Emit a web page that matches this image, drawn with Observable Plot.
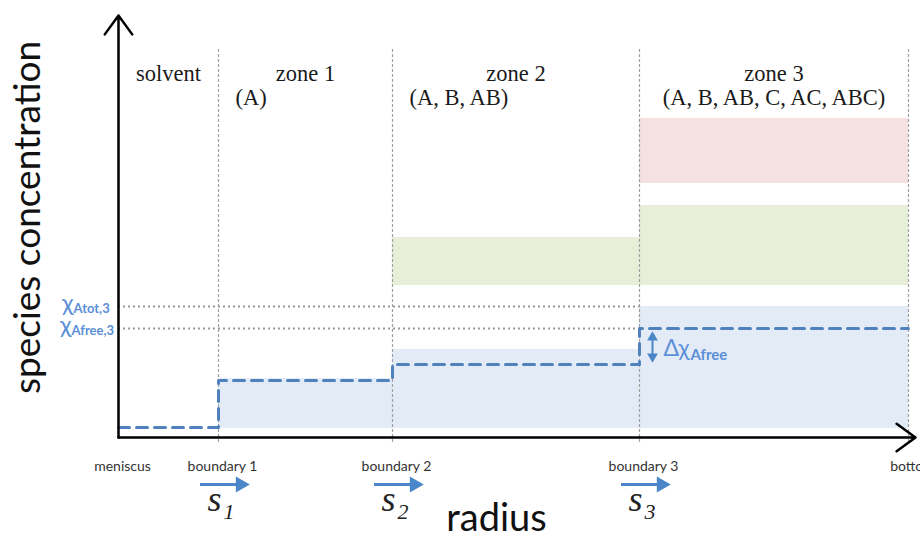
<!DOCTYPE html>
<html><head><meta charset="utf-8">
<script src="https://cdn.jsdelivr.net/npm/d3@7"></script>
<script src="https://cdn.jsdelivr.net/npm/@observablehq/plot@0.6"></script>
<style>body{margin:0;background:#fff}</style>
</head><body><div id="chart"></div>
<script>
// ---- data (radius in arbitrary units, concentration in arbitrary units) ----
const zoneNames = ["solvent", "zone 1", "zone 2", "zone 3"];
const zoneSpecies = ["", "(A)", "(A, B, AB)", "(A, B, AB, C, AC, ABC)"];
const boundaryLabels = ["meniscus", "boundary 1", "boundary 2", "boundary 3", "bottom"];
const boundaryRadius = [0, 1.00, 2.74, 5.21, 7.90];
const bandBase = 0.09;
const totalA = [null, 0.59, 0.88, 1.31];          // top of blue (A) band per zone
const freeA = [0.10, 0.57, 0.73, 1.09];            // dashed free A per zone
const bandB = [null, null, [1.52, 2.00], [1.52, 2.32]];
const bandC = [null, null, null, [2.54, 3.19]];
const sedCoefs = ["1", "2", "3"];

const rMax = 7.97, cMax = 4.22;
const blue = "#4f81bd", labelBlue = "#5b8fd6", arrowBlue = "#4a86c8";

const aRows = zoneNames.map((z, i) => ({x1: boundaryRadius[i], x2: boundaryRadius[i + 1], y1: bandBase, y2: totalA[i]})).filter(d => d.y2 != null);
const bRows = zoneNames.map((z, i) => bandB[i] && ({x1: boundaryRadius[i], x2: boundaryRadius[i + 1], y1: bandB[i][0], y2: bandB[i][1]})).filter(Boolean);
const cRows = zoneNames.map((z, i) => bandC[i] && ({x1: boundaryRadius[i], x2: boundaryRadius[i + 1], y1: bandC[i][0], y2: bandC[i][1]})).filter(Boolean);
const stepPts = freeA.map((v, i) => ({x: boundaryRadius[i], y: v})).concat([{x: boundaryRadius[4], y: freeA[3]}]);
const zoneRows = zoneNames.map((z, i) => ({name: z, species: zoneSpecies[i], mid: (boundaryRadius[i] + boundaryRadius[i + 1]) / 2, start: boundaryRadius[i]}));
const bRows2 = boundaryLabels.map((b, i) => ({label: b, r: boundaryRadius[i]}));
const sRows = sedCoefs.map((s, i) => ({sub: s, r: boundaryRadius[i + 1]}));
const b3 = boundaryRadius[3];

const serif = "Liberation Serif, Times New Roman, serif";
const sans = "Lato, Open Sans, sans-serif";

const chart = Plot.plot({
  width: 920, height: 540,
  marginLeft: 118, marginRight: 5, marginTop: 15, marginBottom: 103,
  x: {domain: [0, rMax], axis: null},
  y: {domain: [0, cMax], axis: null},
  style: {background: "#fff", overflow: "visible"},
  marks: [
    Plot.rect(aRows, {x1: "x1", x2: "x2", y1: "y1", y2: "y2", fill: "#e3ebf7"}),
    Plot.rect(bRows, {x1: "x1", x2: "x2", y1: "y1", y2: "y2", fill: "#e8efd9"}),
    Plot.rect(cRows, {x1: "x1", x2: "x2", y1: "y1", y2: "y2", fill: "#f6e1e1"}),
    // vertical boundary dotted lines
    Plot.ruleX(boundaryRadius.slice(1), {y1: -0.05, y2: 3.90, stroke: "#a0a0a0", strokeWidth: 1.2, strokeDasharray: "3,2"}),
    // horizontal dotted reference lines
    Plot.ruleY([totalA[3], freeA[3]], {x1: 0, x2: b3, stroke: "#999", strokeWidth: 2, strokeDasharray: "2,3"}),
    // dashed free-A step line
    Plot.line(stepPts, {x: "x", y: "y", curve: "step-after", stroke: blue, strokeWidth: 3, strokeDasharray: "11,7"}),
    // axes
    Plot.arrow([0], {x1: 0, y1: 0, x2: 0, y2: cMax, stroke: "#000", strokeWidth: 2.5, headAngle: 72, headLength: 14}),
    Plot.arrow([0], {x1: 0, y1: 0, x2: rMax, y2: 0, stroke: "#000", strokeWidth: 2.5, headAngle: 72, headLength: 14}),
    // delta chi double arrow
    Plot.ruleX([b3 + 0.13], {y1: freeA[2] + 0.07, y2: freeA[3] - 0.08, stroke: arrowBlue, strokeWidth: 2}),
    Plot.dot([freeA[3] - 0.09], {x: b3 + 0.13, y: d => d, symbol: "triangle", r: 4, fill: arrowBlue, rotate: 0}),
    Plot.dot([freeA[2] + 0.08], {x: b3 + 0.13, y: d => d, symbol: "triangle", r: 4, fill: arrowBlue, rotate: 180}),
    Plot.text(["Δχ"], {x: b3 + 0.24, y: 0.82, text: d => d, textAnchor: "start", lineAnchor: "bottom", fontSize: 23, fill: labelBlue, fontFamily: sans}),
    Plot.text(["Afree"], {x: b3 + 0.51, y: 0.78, text: d => d, textAnchor: "start", lineAnchor: "bottom", fontSize: 15, fontWeight: "bold", fill: labelBlue, fontFamily: sans}),
    // chi labels on y axis
    Plot.text(["χ"], {x: -0.45, y: totalA[3] - 0.04, text: d => d, textAnchor: "end", lineAnchor: "bottom", fontSize: 24, fill: labelBlue, fontFamily: sans}),
    Plot.text(["Atot,3"], {x: -0.45, y: totalA[3] - 0.06, text: d => d, textAnchor: "start", lineAnchor: "bottom", fontSize: 13, fontWeight: "bold", fill: labelBlue, fontFamily: sans}),
    Plot.text(["χ"], {x: -0.47, y: freeA[3] - 0.04, text: d => d, textAnchor: "end", lineAnchor: "bottom", fontSize: 24, fill: labelBlue, fontFamily: sans}),
    Plot.text(["Afree,3"], {x: -0.47, y: freeA[3] - 0.06, text: d => d, textAnchor: "start", lineAnchor: "bottom", fontSize: 13, fontWeight: "bold", fill: labelBlue, fontFamily: sans}),
    // zone titles
    Plot.text(zoneRows, {x: "mid", y: 3.57, text: "name", lineAnchor: "bottom", fontSize: 22.5, fill: "#1a1a1a", fontFamily: serif}),
    Plot.text(zoneRows.slice(1, 3), {x: d => d.start + 0.17, y: 3.33, text: "species", textAnchor: "start", lineAnchor: "bottom", fontSize: 22.5, fill: "#1a1a1a", fontFamily: serif}),
    Plot.text(zoneRows.slice(3), {x: "mid", y: 3.33, text: "species", lineAnchor: "bottom", fontSize: 22.5, fill: "#1a1a1a", fontFamily: serif}),
    // boundary labels
    Plot.text(bRows2, {x: "r", y: -0.33, text: "label", dx: 4, lineAnchor: "bottom", fontSize: 14, fill: "#333", fontFamily: sans}),
    // sedimentation arrows
    Plot.ruleY(sRows, {x1: d => d.r - 0.18, x2: d => d.r + 0.22, y: -0.47, stroke: arrowBlue, strokeWidth: 3}),
    Plot.dot(sRows, {x: d => d.r + 0.22, y: -0.47, symbol: "triangle", r: 6, fill: arrowBlue, rotate: 90}),
    Plot.text(sRows, {x: "r", y: -0.73, text: d => "s", dx: -11, textAnchor: "start", lineAnchor: "bottom", fontSize: 36, fontStyle: "italic", fill: "#222", fontFamily: serif}),
    Plot.text(sRows, {x: "r", y: -0.81, text: "sub", dx: 5, textAnchor: "start", lineAnchor: "bottom", fontSize: 22, fontStyle: "italic", fill: "#222", fontFamily: serif}),
    // axis titles
    Plot.text(["radius"], {x: 3.78, y: -0.93, text: d => d, lineAnchor: "bottom", fontSize: 38, fill: "#111", fontFamily: sans}),
    Plot.text(["species concentration"], {x: -0.90, y: 2.20, text: d => d, rotate: -90, fontSize: 37, fill: "#111", fontFamily: sans})
  ]
});
document.getElementById("chart").appendChild(chart);
</script></body></html>
